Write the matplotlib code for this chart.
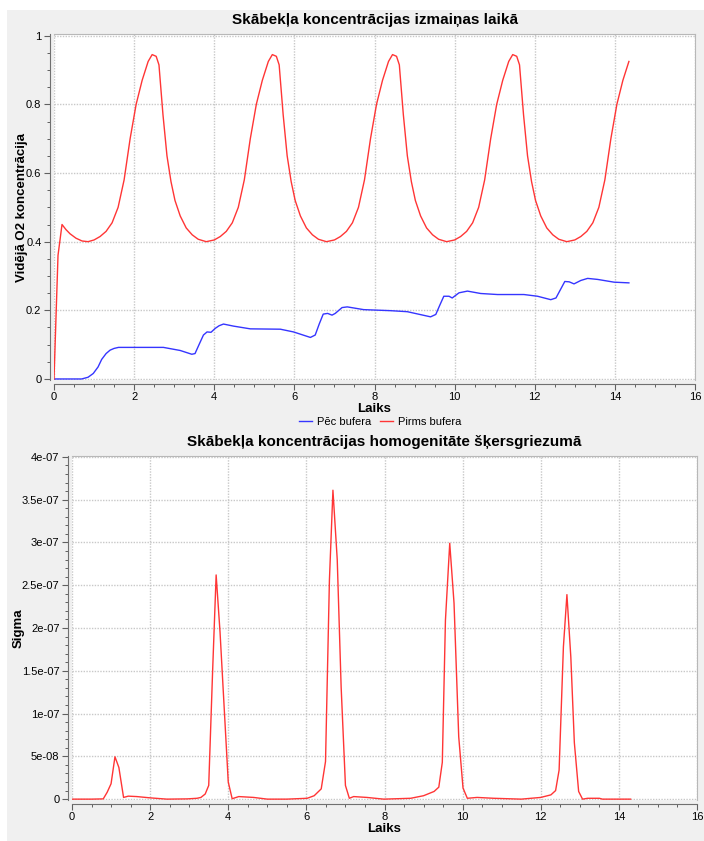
import matplotlib
matplotlib.use('Agg')
import matplotlib.pyplot as plt
from matplotlib.patches import Rectangle
from matplotlib.ticker import MultipleLocator, FuncFormatter

# laiks un O2 koncentracija pirms bufera
t_pirms = [0, 0.1, 0.2, 0.3, 0.4, 0.55, 0.7, 0.85,
           1.0, 1.15, 1.3, 1.45, 1.6, 1.75, 1.9, 2.05, 2.2, 2.35, 2.45, 2.55, 2.62, 2.72, 2.82, 2.92, 3.02, 3.15, 3.3, 3.45, 3.6, 3.8,
           4.0, 4.15, 4.3, 4.45, 4.6, 4.75, 4.9, 5.05, 5.2, 5.35, 5.45, 5.55, 5.62, 5.72, 5.82, 5.92, 6.02, 6.15, 6.3, 6.45, 6.6, 6.8,
           7.0, 7.15, 7.3, 7.45, 7.6, 7.75, 7.9, 8.05, 8.2, 8.35, 8.45, 8.55, 8.62, 8.72, 8.82, 8.92, 9.02, 9.15, 9.3, 9.45, 9.6, 9.8,
           10.0, 10.15, 10.3, 10.45, 10.6, 10.75, 10.9, 11.05, 11.2, 11.35, 11.45, 11.55, 11.62, 11.72, 11.82, 11.92, 12.02, 12.15, 12.3, 12.45, 12.6, 12.8,
           13.0, 13.15, 13.3, 13.45, 13.6, 13.75, 13.9, 14.05, 14.2, 14.35]
o2_pirms = [0, 0.36, 0.45, 0.435, 0.423, 0.41, 0.402, 0.40,
            0.405, 0.415, 0.43, 0.455, 0.50, 0.58, 0.70, 0.80, 0.87, 0.925, 0.945, 0.94, 0.915, 0.77, 0.65, 0.575, 0.52, 0.475, 0.44, 0.42, 0.407, 0.40,
            0.405, 0.415, 0.43, 0.455, 0.50, 0.58, 0.70, 0.80, 0.87, 0.925, 0.945, 0.94, 0.915, 0.77, 0.65, 0.575, 0.52, 0.475, 0.44, 0.42, 0.407, 0.40,
            0.405, 0.415, 0.43, 0.455, 0.50, 0.58, 0.70, 0.80, 0.87, 0.925, 0.945, 0.94, 0.915, 0.77, 0.65, 0.575, 0.52, 0.475, 0.44, 0.42, 0.407, 0.40,
            0.405, 0.415, 0.43, 0.455, 0.50, 0.58, 0.70, 0.80, 0.87, 0.925, 0.945, 0.94, 0.915, 0.77, 0.65, 0.575, 0.52, 0.475, 0.44, 0.42, 0.407, 0.40,
            0.405, 0.415, 0.43, 0.455, 0.50, 0.58, 0.70, 0.80, 0.87, 0.925]

# pec bufera
t_pec = [0, 0.69, 0.85, 0.98, 1.1, 1.19, 1.3, 1.4, 1.5, 1.61, 2.07, 2.73, 3.15, 3.44, 3.52, 3.62, 3.73, 3.82, 3.92, 4.02, 4.12, 4.23,
         4.48, 4.9, 5.65, 5.98, 6.4, 6.52, 6.62, 6.72, 6.83, 6.94, 7.02, 7.19, 7.32, 7.73, 8.4, 8.82, 9.4, 9.53, 9.63, 9.73, 9.86, 9.94,
         10.11, 10.32, 10.65, 11.07, 11.73, 12.07, 12.4, 12.53, 12.64, 12.75, 12.86, 12.98, 13.15, 13.32, 13.57, 13.98, 14.35]
o2_pec = [0, 0, 0.005, 0.016, 0.035, 0.057, 0.074, 0.084, 0.089, 0.092, 0.092, 0.092, 0.083, 0.072, 0.074, 0.10, 0.128, 0.137, 0.136, 0.147, 0.155, 0.160,
          0.154, 0.146, 0.145, 0.137, 0.121, 0.128, 0.16, 0.189, 0.191, 0.186, 0.191, 0.208, 0.210, 0.202, 0.199, 0.196, 0.181, 0.188, 0.215, 0.241, 0.241, 0.236,
          0.251, 0.256, 0.249, 0.246, 0.246, 0.241, 0.231, 0.236, 0.26, 0.284, 0.283, 0.277, 0.287, 0.293, 0.29, 0.282, 0.28]

# sigma skersgriezuma
t_sigma = [0, 0.5, 0.8, 0.9, 1.0, 1.1, 1.2, 1.32, 1.44, 1.66, 2.0, 2.43, 2.95, 3.2, 3.3, 3.41, 3.5, 3.6, 3.69, 3.79, 3.88, 4.0, 4.1,
           4.27, 4.65, 5.0, 5.5, 6.02, 6.2, 6.38, 6.49, 6.59, 6.68, 6.79, 6.89, 7.0, 7.1, 7.21, 7.55, 7.98, 8.67, 9.0, 9.27, 9.39, 9.48,
           9.56, 9.67, 9.78, 9.9, 10.01, 10.12, 10.37, 10.8, 11.5, 12.0, 12.26, 12.38, 12.47, 12.58, 12.67, 12.77, 12.86, 12.97, 13.07,
           13.2, 13.5, 13.58, 14.3]
sigma = [0, 0, 0.003e-7, 0.08e-7, 0.18e-7, 0.495e-7, 0.37e-7, 0.02e-7, 0.035e-7, 0.03e-7, 0.015e-7, 0, 0.003e-7, 0.01e-7, 0.02e-7, 0.06e-7, 0.16e-7, 1.5e-7, 2.62e-7, 1.95e-7, 1.2e-7, 0.2e-7, 0.005e-7,
         0.03e-7, 0.02e-7, 0, 0, 0.01e-7, 0.04e-7, 0.12e-7, 0.44e-7, 2.56e-7, 3.61e-7, 2.8e-7, 1.31e-7, 0.16e-7, 0.01e-7, 0.03e-7, 0.02e-7, 0, 0.01e-7, 0.04e-7, 0.09e-7, 0.14e-7, 0.43e-7,
         2.09e-7, 2.99e-7, 2.29e-7, 0.73e-7, 0.13e-7, 0.01e-7, 0.02e-7, 0.01e-7, 0, 0.02e-7, 0.05e-7, 0.1e-7, 0.34e-7, 1.78e-7, 2.39e-7, 1.66e-7, 0.66e-7, 0.09e-7, 0,
         0.01e-7, 0.01e-7, 0, 0]

RED = '#ff3535'
BLUE = '#3535ff'
BG = '#f0f0f0'
GRID = '#c8c8c8'

plt.rcParams['font.family'] = ['Liberation Sans', 'DejaVu Sans']
fig = plt.figure(figsize=(7.04, 8.41), dpi=100, facecolor='white')
fig.patches.append(Rectangle((7 / 704, 0), 1, 1 - 10 / 841, transform=fig.transFigure,
                             facecolor=BG, edgecolor='none', zorder=-10))


def style_axes(ax):
    ax.set_facecolor('white')
    for s in ['top', 'right']:
        ax.spines[s].set_color('#b8b8b8')
        ax.spines[s].set_linewidth(0.8)
    for s in ['left', 'bottom']:
        ax.spines[s].set_position(('outward', 3))
        ax.spines[s].set_color('#707070')
        ax.spines[s].set_linewidth(0.8)
    ax.grid(True, which='major', color=GRID, linestyle=(0, (1, 1)), linewidth=1.0)
    ax.tick_params(which='major', length=4, width=0.8, color='#606060', labelsize=8, pad=2)
    ax.tick_params(which='minor', length=2, width=0.7, color='#606060')
    ax.xaxis.set_major_locator(MultipleLocator(2))
    ax.xaxis.set_minor_locator(MultipleLocator(0.5))


ax1 = fig.add_axes([54 / 704, 1 - 380 / 841, 641 / 704, 346 / 841])
style_axes(ax1)
ax1.plot(t_pec, o2_pec, color=BLUE, lw=1.0, label='Pēc bufera')
ax1.plot(t_pirms, o2_pirms, color=RED, lw=1.0, label='Pirms bufera')
ax1.set_xlim(0, 16)
ax1.set_ylim(-0.003, 1.005)
ax1.yaxis.set_major_locator(MultipleLocator(0.2))
ax1.yaxis.set_minor_locator(MultipleLocator(0.05))
ax1.yaxis.set_major_formatter(FuncFormatter(lambda v, p: '%g' % round(v, 2)))
ax1.set_title('Skābekļa koncentrācijas izmaiņas laikā', fontsize=11, fontweight='bold', pad=7)
ax1.set_xlabel('Laiks', fontsize=9.5, fontweight='bold')
ax1.xaxis.set_label_coords(0.5, -0.066)
ax1.set_ylabel('Vidējā O2 koncentrācija', fontsize=9.5, fontweight='bold')
ax1.yaxis.set_label_coords(-0.041, 0.5)
fig.legend(loc='center', bbox_to_anchor=(380 / 704, 1 - 422 / 841), ncol=2, frameon=False,
           fontsize=8, handlelength=1.2, columnspacing=0.8, handletextpad=0.4)

ax2 = fig.add_axes([72 / 704, 1 - 800 / 841, 625 / 704, 344 / 841])
style_axes(ax2)
ax2.plot(t_sigma, sigma, color=RED, lw=1.0)
ax2.set_xlim(0, 16)
ax2.set_ylim(-0.01e-7, 4.01e-7)
ax2.yaxis.set_major_locator(MultipleLocator(0.5e-7))
ax2.yaxis.set_minor_locator(MultipleLocator(0.1e-7))
ax2.yaxis.set_major_formatter(FuncFormatter(lambda v, p: '0' if abs(v) < 1e-12 else '%g' % float('%.2g' % v)))
ax2.set_title('Skābekļa koncentrācijas homogenitāte šķersgriezumā', fontsize=11, fontweight='bold', pad=7)
ax2.set_xlabel('Laiks', fontsize=9.5, fontweight='bold')
ax2.xaxis.set_label_coords(0.5, -0.068)
ax2.set_ylabel('Sigma', fontsize=9.5, fontweight='bold')
ax2.yaxis.set_label_coords(-0.076, 0.5)

fig.savefig('out.png', dpi=100)
